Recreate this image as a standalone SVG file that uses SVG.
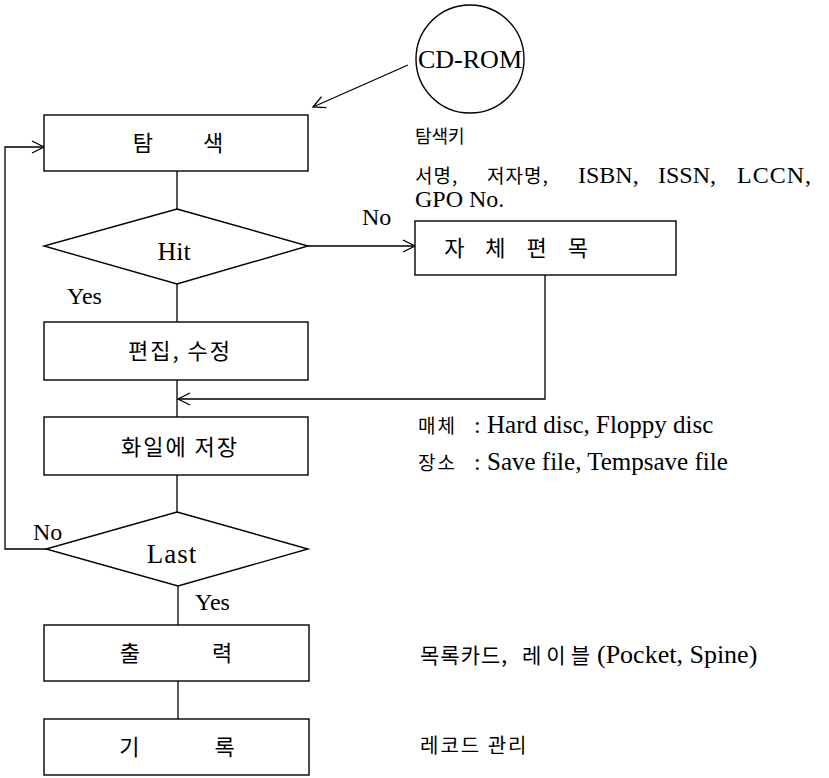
<svg xmlns="http://www.w3.org/2000/svg" width="829" height="778" viewBox="0 0 829 778">
<style>
.s{fill:none;stroke:#000;stroke-width:1.3}
.b{fill:#fff;stroke:#000;stroke-width:1.4}
.t{font-family:"Liberation Serif","Noto Sans CJK KR",serif;fill:#000}
.k{font-family:"Noto Sans CJK KR","Liberation Serif",sans-serif;fill:#000}
.bx{font-family:"Noto Sans CJK KR",sans-serif;font-size:22px;fill:#000;text-anchor:middle}
</style>
<defs>
<marker id="ah" markerUnits="userSpaceOnUse" markerWidth="16" markerHeight="16" refX="13" refY="7" orient="auto">
<path d="M1,1 L13,7 L1,13" fill="none" stroke="#000" stroke-width="1.3"/>
</marker>
</defs>
<rect width="829" height="778" fill="#fff"/>
<g id="connectors">
<line class="s" x1="408" y1="65" x2="313" y2="107" marker-end="url(#ah)"/>
<line class="s" x1="177" y1="171" x2="177" y2="209"/>
<line class="s" x1="308" y1="246" x2="415" y2="246" marker-end="url(#ah)"/>
<line class="s" x1="177" y1="284" x2="177" y2="322"/>
<line class="s" x1="177" y1="380" x2="177" y2="417"/>
<polyline class="s" points="545,275 545,399 178,399" marker-end="url(#ah)"/>
<line class="s" x1="177" y1="475" x2="177" y2="512"/>
<polyline class="s" points="46,549 5,549 5,147 44,147" marker-end="url(#ah)"/>
<line class="s" x1="178" y1="586" x2="178" y2="625"/>
<line class="s" x1="178" y1="681" x2="178" y2="719"/>
</g>
<g id="cdrom">
<circle class="b" cx="470" cy="59" r="54"/>
<text class="t" x="470" y="68" font-size="26" text-anchor="middle">CD-ROM</text>
</g>
<g id="search">
<rect class="b" x="44" y="115" width="264" height="56"/>
<text class="bx" x="178" y="151" word-spacing="45">탐 색</text>
</g>
<g id="hit">
<polygon class="b" points="177,209 308,246 177,284 44,246"/>
<text class="t" x="174" y="260" font-size="26" text-anchor="middle">Hit</text>
</g>
<g id="self-catalog">
<rect class="b" x="415" y="221" width="261" height="54"/>
<text class="bx" x="516" y="256" word-spacing="16">자 체 편 목</text>
</g>
<g id="edit">
<rect class="b" x="44" y="322" width="264" height="58"/>
<text class="bx" x="180" y="359" letter-spacing="2">편집, 수정</text>
</g>
<g id="save">
<rect class="b" x="44" y="417" width="264" height="58"/>
<text class="bx" x="180" y="455" letter-spacing="2">화일에 저장</text>
</g>
<g id="last">
<polygon class="b" points="177,512 308,549 178,586 46,549"/>
<text class="t" x="172" y="563" font-size="27" text-anchor="middle" letter-spacing="1">Last</text>
</g>
<g id="output">
<rect class="b" x="44" y="625" width="265" height="56"/>
<text class="bx" x="176" y="661" word-spacing="67">출 력</text>
</g>
<g id="record">
<rect class="b" x="44" y="719" width="265" height="56"/>
<text class="bx" x="177" y="755" word-spacing="70">기 록</text>
</g>
<g id="labels">
<text class="t" x="362" y="225" font-size="24">No</text>
<text class="t" x="67" y="304" font-size="24">Yes</text>
<text class="t" x="33" y="540" font-size="24">No</text>
<text class="t" x="195" y="610" font-size="24">Yes</text>
<text class="k" x="415" y="143" font-size="18">탐색키</text>
<text class="t" x="415" y="183" font-size="24"><tspan class="k" font-size="19" letter-spacing="1">서명,</tspan><tspan class="k" x="487" font-size="19" letter-spacing="1">저자명,</tspan><tspan x="578">ISBN,</tspan><tspan x="658">ISSN,</tspan><tspan x="737" letter-spacing="1">LCCN,</tspan></text>
<text class="t" x="415" y="207" font-size="24">GPO No.</text>
<text class="t" x="418" y="433" font-size="24"><tspan class="k" font-size="19" letter-spacing="2">매체</tspan><tspan x="474">:</tspan><tspan x="487" font-size="25">Hard disc, Floppy disc</tspan></text>
<text class="t" x="418" y="470" font-size="24"><tspan class="k" font-size="19" letter-spacing="2">장소</tspan><tspan x="474">:</tspan><tspan x="487" font-size="25">Save file, Tempsave file</tspan></text>
<text class="t" x="420" y="663" font-size="24"><tspan class="k" font-size="21" letter-spacing="1">목록카드,</tspan><tspan class="k" x="522" font-size="21" letter-spacing="5">레이블</tspan><tspan x="597" font-size="26">(Pocket, Spine)</tspan></text>
<text class="k" x="420" y="753" font-size="20" letter-spacing="2">레코드 관리</text>
</g>
</svg>
